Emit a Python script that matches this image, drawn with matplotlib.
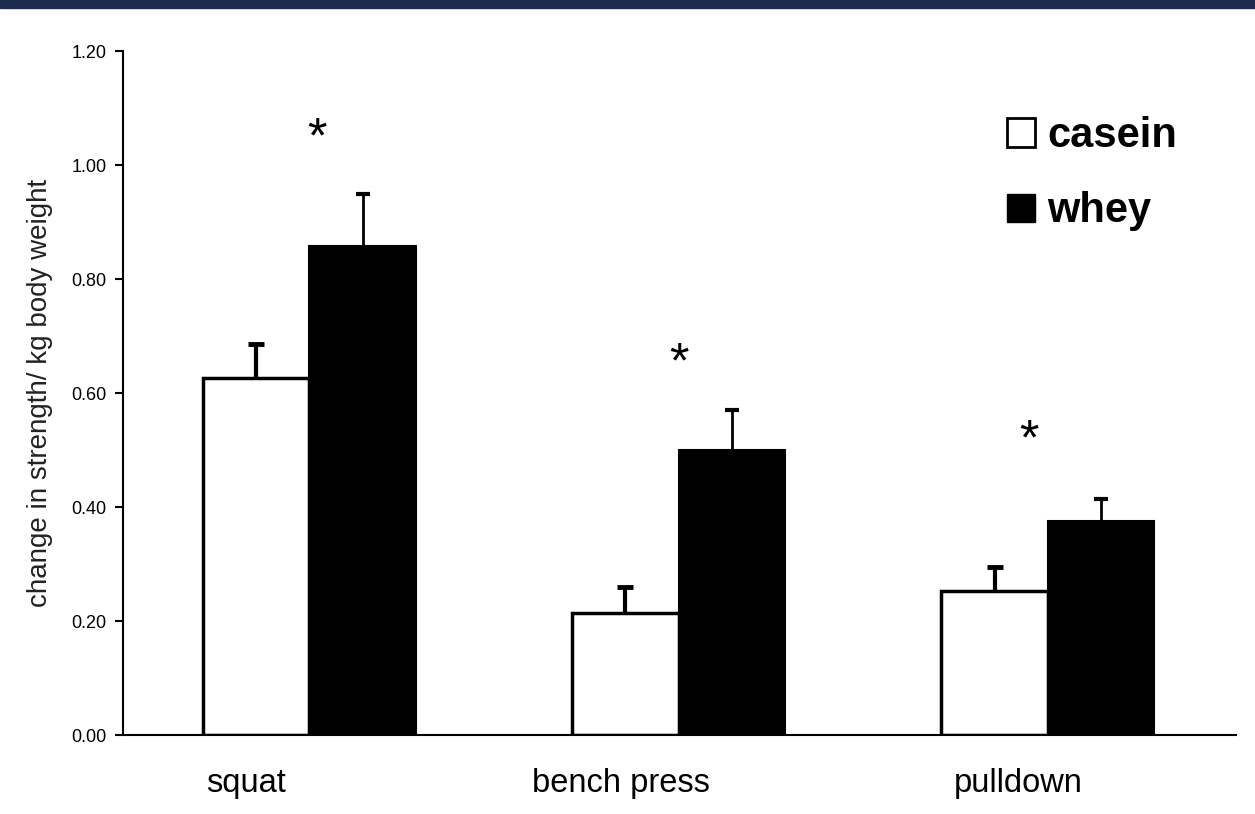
import matplotlib
matplotlib.use("Agg")
import matplotlib.pyplot as plt
from matplotlib.patches import Patch, Rectangle
import numpy as np

# data
exercises = ["squat", "bench press", "pulldown"]
casein = [0.626, 0.214, 0.253]
casein_err = [0.060, 0.046, 0.042]
whey = [0.858, 0.500, 0.375]
whey_err = [0.091, 0.070, 0.039]
stars_y = [1.045, 0.65, 0.515]
yticks = [0.0, 0.2, 0.4, 0.6, 0.8, 1.0, 1.2]

plt.rcParams['font.family'] = ['Liberation Sans', 'DejaVu Sans']

fig = plt.figure(figsize=(12.55, 8.14), dpi=100)
fig.patches.append(Rectangle((0, 1 - 8 / 814), 1, 8 / 814, transform=fig.transFigure,
                             color='#1c2a4c', zorder=0))
ax = fig.add_axes([123 / 1255, 1 - 735 / 814, (1236 - 123) / 1255, (735 - 51) / 814])

x = np.arange(len(exercises))
w = 0.288

ax.bar(x - w / 2, casein, w, color='white', edgecolor='black', linewidth=2.5, zorder=2)
ax.bar(x + w / 2, whey, w, color='black', edgecolor='black', linewidth=1.5, zorder=2)
eb1 = ax.errorbar(x - w / 2, casein, yerr=[np.zeros(3), casein_err], fmt='none',
                  ecolor='black', elinewidth=3, capsize=5.5, capthick=3.5, zorder=1)
eb2 = ax.errorbar(x + w / 2, whey, yerr=[np.zeros(3), whey_err], fmt='none',
                  ecolor='black', elinewidth=2, capsize=5, capthick=3, zorder=1)
# only the upper cap is drawn
eb1[1][0].set_visible(False)
eb2[1][0].set_visible(False)

star_dx = [0.02, 0.0, -0.05]
for xi, dx, sy in zip(x, star_dx, stars_y):
    ax.text(xi + dx, sy, "*", ha='center', va='center', fontsize=36)

ax.set_xlim(-0.505, 2.51)
ax.set_ylim(0, 1.2)
ax.set_yticks(yticks, ["%.2f" % v for v in yticks], fontsize=13)
ax.tick_params(axis='y', direction='out', length=6, width=1.5, pad=6)
label_dx = [-0.171, -0.157, -0.081]
ax.set_xticks(x + np.array(label_dx), exercises, fontsize=23.5)
ax.tick_params(axis='x', length=0, pad=24)

ax.spines['top'].set_visible(False)
ax.spines['right'].set_visible(False)
ax.spines['left'].set_linewidth(1.5)
ax.spines['bottom'].set_linewidth(1.5)

ax.set_ylabel("change in strength/ kg body weight", fontsize=20, color='#222222', labelpad=13)

handles = [Patch(facecolor='white', edgecolor='black', linewidth=2),
           Patch(facecolor='black', edgecolor='black')]
ax.legend(handles, ["casein", "whey"], loc='upper left',
          bbox_to_anchor=(1007 / 1255, 1 - 116 / 814), bbox_transform=fig.transFigure,
          frameon=False, prop={'weight': 'bold', 'size': 30},
          handlelength=0.67, handleheight=0.67, handletextpad=0.3,
          labelspacing=0.85, borderpad=0, borderaxespad=0)

fig.savefig("out.png", dpi=100)
